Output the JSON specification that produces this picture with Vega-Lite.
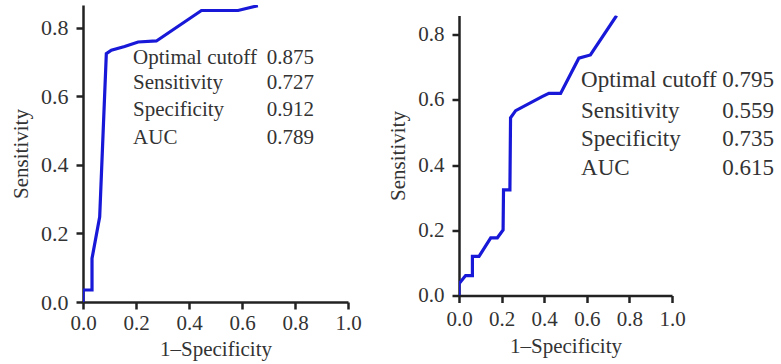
{
  "$schema": "https://vega.github.io/schema/vega-lite/v6.json",
  "background": "white",
  "padding": {"left": 10, "top": 5, "right": 0, "bottom": 0},
  "bounds": "full",
  "center": true,
  "spacing": 25,
  "config": {
    "view": {"stroke": null},
    "font": "Liberation Serif",
    "axis": {
      "grid": false,
      "domainColor": "#222",
      "domainWidth": 2.5,
      "tickColor": "#222",
      "tickWidth": 2.5,
      "tickSize": 7,
      "labelFont": "Liberation Serif",
      "labelFontSize": 21,
      "labelColor": "#333",
      "labelPadding": 6,
      "titleFont": "Liberation Serif",
      "titleFontSize": 21,
      "titleFontWeight": "normal",
      "titleColor": "#333",
      "titlePadding": 6
    },
    "axisY": {"labelPadding": 8, "titlePadding": 9}
  },
  "datasets": {
    "roc1": [
      {"i": 0, "fpr": 0.0, "tpr": 0.0},
      {"i": 1, "fpr": 0.0, "tpr": 0.035},
      {"i": 2, "fpr": 0.034, "tpr": 0.035},
      {"i": 3, "fpr": 0.034, "tpr": 0.127},
      {"i": 4, "fpr": 0.063, "tpr": 0.249},
      {"i": 5, "fpr": 0.088, "tpr": 0.725},
      {"i": 6, "fpr": 0.107, "tpr": 0.735},
      {"i": 7, "fpr": 0.157, "tpr": 0.746},
      {"i": 8, "fpr": 0.208, "tpr": 0.759},
      {"i": 9, "fpr": 0.277, "tpr": 0.762},
      {"i": 10, "fpr": 0.447, "tpr": 0.851},
      {"i": 11, "fpr": 0.585, "tpr": 0.851},
      {"i": 12, "fpr": 0.66, "tpr": 0.865}
    ],
    "roc2": [
      {"i": 0, "fpr": 0.0, "tpr": 0.0},
      {"i": 1, "fpr": 0.0, "tpr": 0.036},
      {"i": 2, "fpr": 0.031, "tpr": 0.061},
      {"i": 3, "fpr": 0.063, "tpr": 0.061},
      {"i": 4, "fpr": 0.063, "tpr": 0.12},
      {"i": 5, "fpr": 0.094, "tpr": 0.12},
      {"i": 6, "fpr": 0.149, "tpr": 0.177},
      {"i": 7, "fpr": 0.18, "tpr": 0.177},
      {"i": 8, "fpr": 0.207, "tpr": 0.201},
      {"i": 9, "fpr": 0.209, "tpr": 0.324},
      {"i": 10, "fpr": 0.239, "tpr": 0.324},
      {"i": 11, "fpr": 0.242, "tpr": 0.545},
      {"i": 12, "fpr": 0.266, "tpr": 0.567},
      {"i": 13, "fpr": 0.39, "tpr": 0.61},
      {"i": 14, "fpr": 0.422, "tpr": 0.62},
      {"i": 15, "fpr": 0.477, "tpr": 0.62},
      {"i": 16, "fpr": 0.5625, "tpr": 0.728},
      {"i": 17, "fpr": 0.617, "tpr": 0.738},
      {"i": 18, "fpr": 0.74, "tpr": 0.859}
    ],
    "stats1": [
      {"label": "Optimal cutoff", "value": "0.875", "x": 0.189, "xv": 0.872, "y": 0.712},
      {"label": "Sensitivity", "value": "0.727", "x": 0.189, "xv": 0.872, "y": 0.639},
      {"label": "Specificity", "value": "0.912", "x": 0.189, "xv": 0.872, "y": 0.561},
      {"label": "AUC", "value": "0.789", "x": 0.189, "xv": 0.872, "y": 0.479}
    ],
    "stats2": [
      {"label": "Optimal cutoff", "value": "0.795", "x": 0.573, "xv": 1.479, "y": 0.66},
      {"label": "Sensitivity", "value": "0.559", "x": 0.573, "xv": 1.479, "y": 0.567},
      {"label": "Specificity", "value": "0.735", "x": 0.573, "xv": 1.479, "y": 0.479},
      {"label": "AUC", "value": "0.615", "x": 0.573, "xv": 1.479, "y": 0.39}
    ]
  },
  "hconcat": [
    {
      "width": 265,
      "height": 297,
      "layer": [
        {
          "data": {"name": "roc1"},
          "mark": {"type": "line", "color": "#1818d8", "strokeWidth": 3.2, "clip": true},
          "encoding": {
            "x": {"field": "fpr", "type": "quantitative", "scale": {"domain": [0, 1], "nice": false}, "axis": {"title": ["1–Specificity", " "], "titleLineHeight": 8, "values": [0, 0.2, 0.4, 0.6, 0.8, 1.0], "format": ".1f", "labelFlush": false, "labelPadding": 3, "titlePadding": 5}},
            "y": {"field": "tpr", "type": "quantitative", "scale": {"domain": [0, 0.867], "nice": false}, "axis": {"title": "Sensitivity", "values": [0, 0.2, 0.4, 0.6, 0.8], "format": ".1f", "labelFlush": false, "labelFontSize": 22}},
            "order": {"field": "i", "type": "quantitative"}
          }
        },
        {
          "data": {"name": "stats1"},
          "mark": {"type": "text", "align": "left", "baseline": "middle", "fontSize": 21, "color": "#333", "font": "Liberation Serif"},
          "encoding": {
            "x": {"field": "x", "type": "quantitative"},
            "y": {"field": "y", "type": "quantitative"},
            "text": {"field": "label"}
          }
        },
        {
          "data": {"name": "stats1"},
          "mark": {"type": "text", "align": "right", "baseline": "middle", "fontSize": 21, "color": "#333", "font": "Liberation Serif"},
          "encoding": {
            "x": {"field": "xv", "type": "quantitative"},
            "y": {"field": "y", "type": "quantitative"},
            "text": {"field": "value"}
          }
        }
      ]
    },
    {
      "width": 213,
      "height": 280,
      "layer": [
        {
          "data": {"name": "roc2"},
          "mark": {"type": "line", "color": "#1818d8", "strokeWidth": 3.2, "clip": true},
          "encoding": {
            "x": {"field": "fpr", "type": "quantitative", "scale": {"domain": [0, 1], "nice": false}, "axis": {"title": "1–Specificity", "values": [0, 0.2, 0.4, 0.6, 0.8, 1.0], "format": ".1f", "labelFlush": false}},
            "y": {"field": "tpr", "type": "quantitative", "scale": {"domain": [0, 0.859], "nice": false}, "axis": {"title": "Sensitivity", "values": [0, 0.2, 0.4, 0.6, 0.8], "format": ".1f", "labelFlush": false}},
            "order": {"field": "i", "type": "quantitative"}
          }
        },
        {
          "data": {"name": "stats2"},
          "mark": {"type": "text", "align": "left", "baseline": "middle", "fontSize": 23, "color": "#333", "font": "Liberation Serif"},
          "encoding": {
            "x": {"field": "x", "type": "quantitative"},
            "y": {"field": "y", "type": "quantitative"},
            "text": {"field": "label"}
          }
        },
        {
          "data": {"name": "stats2"},
          "mark": {"type": "text", "align": "right", "baseline": "middle", "fontSize": 23, "color": "#333", "font": "Liberation Serif"},
          "encoding": {
            "x": {"field": "xv", "type": "quantitative"},
            "y": {"field": "y", "type": "quantitative"},
            "text": {"field": "value"}
          }
        }
      ]
    }
  ]
}
